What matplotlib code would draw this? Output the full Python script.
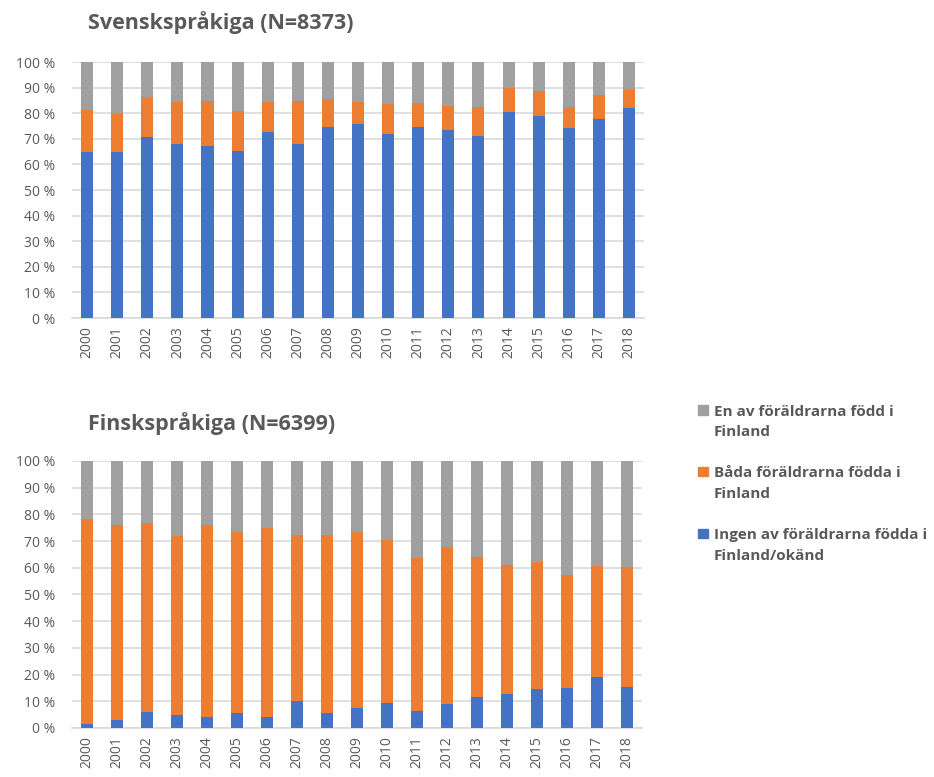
import matplotlib
matplotlib.use("Agg")
import matplotlib.pyplot as plt
import numpy as np
from matplotlib.patches import Patch, Rectangle
from matplotlib.legend_handler import HandlerPatch

years = [str(y) for y in range(2000, 2019)]

# Svenskspråkiga (percent)
sv_ingen = [64.8, 64.8, 70.7, 68.0, 67.2, 65.4, 72.8, 68.0, 74.7, 75.8,
            71.9, 74.5, 73.3, 71.1, 80.5, 78.9, 74.3, 77.6, 82.2]
sv_bada = [16.6, 15.3, 15.8, 16.5, 17.6, 15.6, 11.7, 16.8, 10.7, 8.7,
           11.8, 9.6, 9.6, 11.3, 9.5, 9.9, 8.3, 9.5, 7.3]

# Finskspråkiga (percent)
fi_ingen = [1.4, 2.9, 6.1, 4.7, 4.0, 5.5, 4.0, 10.2, 5.7, 7.6,
            9.2, 6.2, 9.1, 11.7, 12.9, 14.7, 15.0, 19.0, 15.2]
fi_bada = [76.9, 73.3, 70.7, 67.2, 71.9, 67.8, 70.9, 62.1, 66.5, 65.7,
           61.3, 57.3, 58.7, 52.2, 48.0, 47.3, 42.2, 41.5, 45.0]

labels = ["En av föräldrarna född i\nFinland",
          "Båda föräldrarna födda i\nFinland",
          "Ingen av föräldrarna födda i\nFinland/okänd"]
titles = ["Svenskspråkiga (N=8373)", "Finskspråkiga (N=6399)"]

c_blue = "#4472C4"
c_orange = "#ED7D31"
c_gray = "#A0A0A0"
txt = "#595959"
grid = "#D9D9D9"

plt.rcParams['font.family'] = ['Open Sans', 'DejaVu Sans']

fig = plt.figure(figsize=(9.34, 7.77), dpi=100)
ax1 = fig.add_axes([0.0771, 0.5907, 0.6124, 0.3295])
ax2 = fig.add_axes([0.0771, 0.0631, 0.6103, 0.3436])

def draw(ax, ingen, bada, title, pad):
    ingen = np.array(ingen)
    bada = np.array(bada)
    en = 100 - ingen - bada
    x = np.arange(len(years))
    w = 0.4
    ax.bar(x, ingen, w, color=c_blue, zorder=3)
    ax.bar(x, bada, w, bottom=ingen, color=c_orange, zorder=3)
    ax.bar(x, en, w, bottom=ingen + bada, color=c_gray, zorder=3)
    ax.set_xlim(-0.5, len(years) - 0.5)
    ax.set_ylim(0, 100)
    ax.set_yticks(np.arange(0, 101, 10))
    ax.set_yticklabels([f"{v} %" for v in range(0, 101, 10)])
    ax.set_xticks(x)
    ax.set_xticklabels(years, rotation=90)
    ax.yaxis.grid(True, color=grid, lw=1.2, zorder=0)
    for s in ["top", "left", "right"]:
        ax.spines[s].set_visible(False)
    ax.spines["bottom"].set_color(grid)
    ax.spines["bottom"].set_linewidth(1.2)
    ax.tick_params(axis="both", length=0, colors=txt, labelsize=10)
    ax.tick_params(axis="y", pad=12)
    ax.tick_params(axis="x", pad=6)
    ax.set_title(title, loc="left", x=0.028, fontsize=15.5, fontweight="bold",
                 color=txt, pad=pad)

draw(ax1, sv_ingen, sv_bada, titles[0], 24)
draw(ax2, fi_ingen, fi_bada, titles[1], 22)

def top_square(legend, orig_handle, xdescent, ydescent, width, height, fontsize):
    return Rectangle((-xdescent, -ydescent + 0.78 * fontsize), width, height)

handles = [Patch(color=c_gray), Patch(color=c_orange), Patch(color=c_blue)]
leg = fig.legend(handles, labels, loc="upper left", bbox_to_anchor=(0.733, 0.497),
                 frameon=False, handlelength=0.6, handleheight=0.55,
                 handletextpad=0.4, labelspacing=1.78,
                 handler_map={Patch: HandlerPatch(patch_func=top_square)},
                 prop={"size": 11, "weight": "bold"})
for t in leg.get_texts():
    t.set_color(txt)
    t.set_linespacing(1.6)

fig.savefig("out.png", dpi=100)
